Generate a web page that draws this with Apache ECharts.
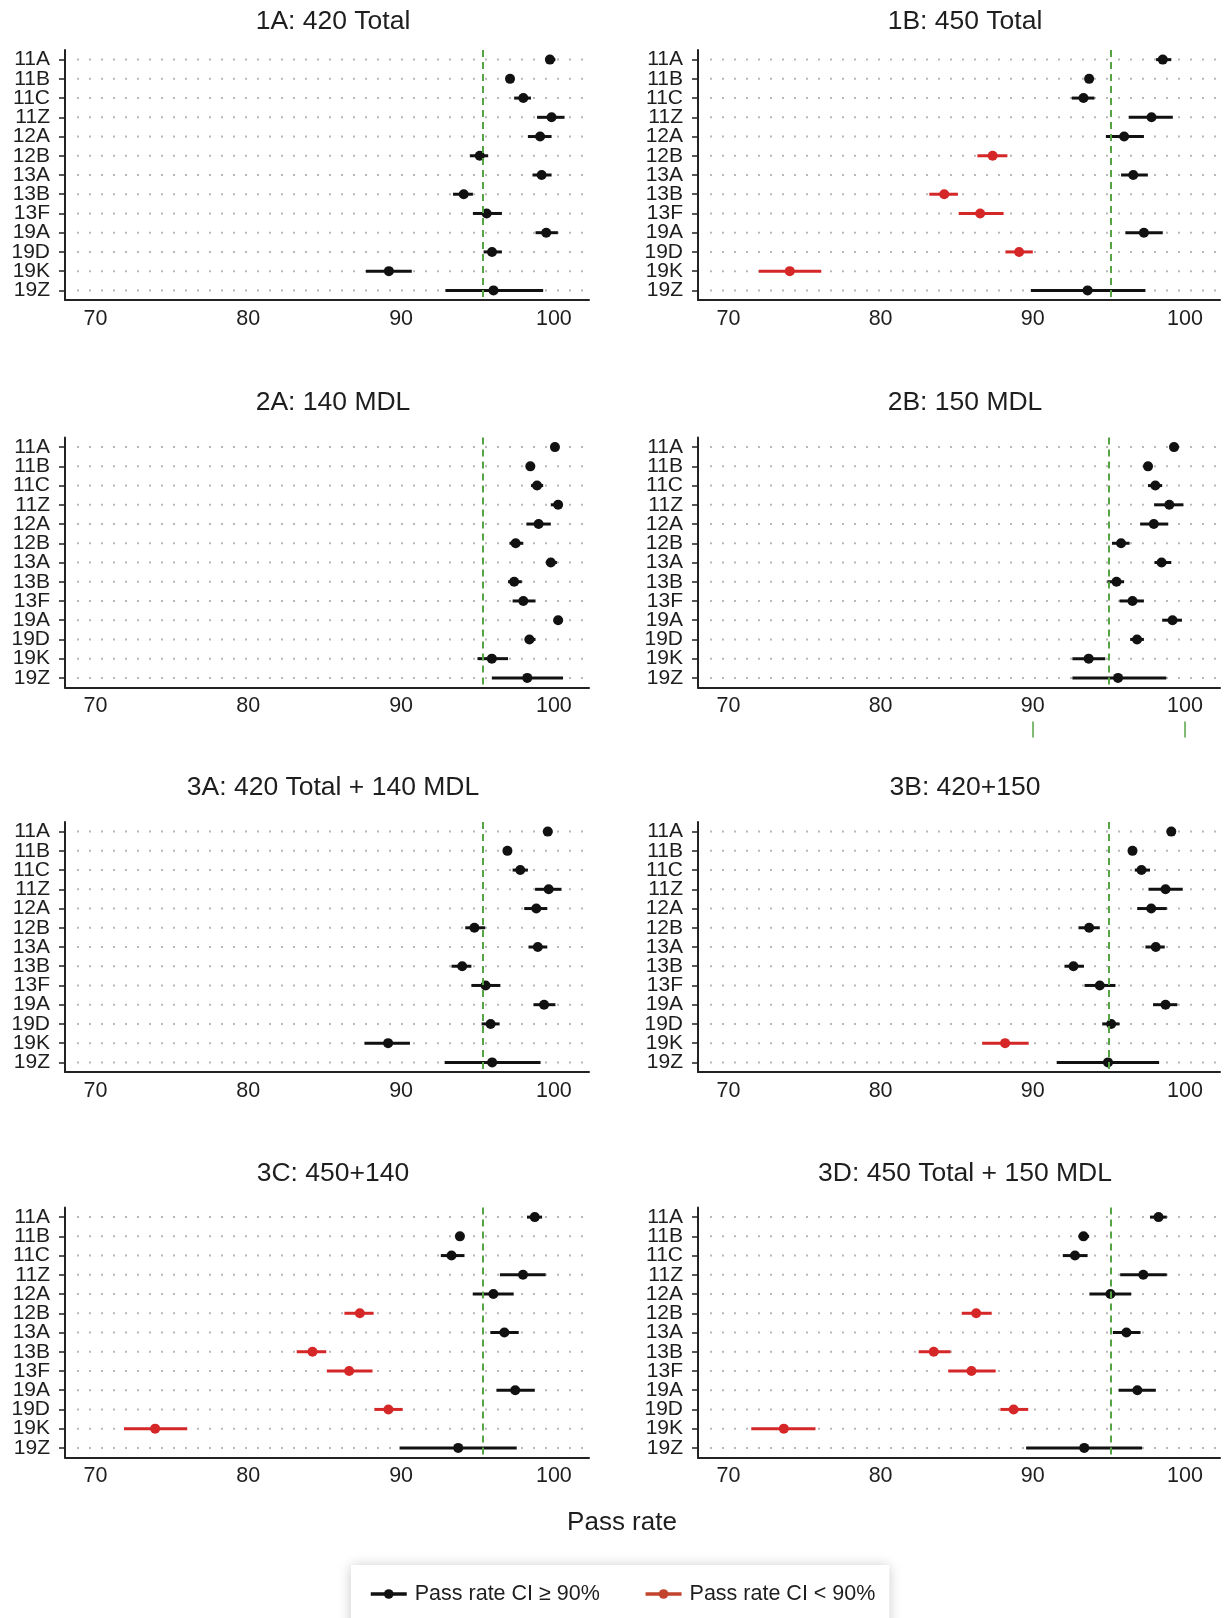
<!DOCTYPE html>
<html>
<head>
<meta charset="utf-8">
<script src="https://cdn.jsdelivr.net/npm/echarts@6/dist/echarts.min.js"></script>
<style>
html,body{margin:0;padding:0;background:#fff;}
#chart{width:1224px;height:1618px;}
</style>
</head>
<body>
<div id="chart"></div>
<script>
// ---------- data ----------
const categories = ['11A','11B','11C','11Z','12A','12B','13A','13B','13F','19A','19D','19K','19Z'];
const xTicks = [70, 80, 90, 100];
const panelTitles = ['1A: 420 Total','1B: 450 Total','2A: 140 MDL','2B: 150 MDL',
                     '3A: 420 Total + 140 MDL','3B: 420+150','3C: 450+140','3D: 450 Total + 150 MDL'];
const thresholds = [95.35, 95.15, 95.35, 95.0, 95.35, 95.0, 95.35, 95.1];
const legendNames = ['Pass rate CI \u2265 90%', 'Pass rate CI < 90%'];

const est1A = [99.74, 97.13, 98.0, 99.85, 99.1, 95.15, 99.2, 94.1, 95.6, 99.5, 95.95, 89.2, 96.05];
const lo1A  = [99.5, 97.0, 97.4, 98.9, 98.3, 94.5, 98.6, 93.4, 94.7, 98.8, 95.4, 87.7, 92.9];
const hi1A  = [100.1, 97.3, 98.5, 100.7, 99.85, 95.7, 99.85, 94.7, 96.6, 100.26, 96.6, 90.7, 99.3];
const red1A = [0,0,0,0,0,0,0,0,0,0,0,0,0];

const est1B = [98.54, 93.7, 93.33, 97.8, 96.0, 87.36, 96.6, 84.18, 86.54, 97.3, 89.1, 74.03, 93.6];
const lo1B  = [98.1, 93.5, 92.56, 96.3, 94.8, 86.36, 95.8, 83.2, 85.13, 96.08, 88.2, 72.0, 89.87];
const hi1B  = [99.1, 93.9, 94.05, 99.2, 97.3, 88.33, 97.56, 85.08, 88.08, 98.54, 90.0, 76.1, 97.4];
const red1B = [0,0,0,0,0,1,0,1,1,0,1,1,0];

const est2A = [100.07, 98.46, 98.9, 100.28, 99.0, 97.5, 99.8, 97.4, 98.0, 100.28, 98.4, 95.94, 98.26];
const lo2A  = [99.9, 98.3, 98.5, 99.8, 98.2, 97.1, 99.5, 97.0, 97.3, 100.0, 98.1, 95.0, 95.94];
const hi2A  = [100.2, 98.6, 99.3, 100.5, 99.8, 98.0, 100.2, 97.9, 98.8, 100.55, 98.8, 97.0, 100.6];
const red2A = [0,0,0,0,0,0,0,0,0,0,0,0,0];

const est2B = [99.28, 97.57, 98.05, 98.97, 97.95, 95.8, 98.46, 95.5, 96.55, 99.18, 96.85, 93.67, 95.6];
const lo2B  = [99.0, 97.4, 97.57, 97.97, 97.05, 95.2, 98.0, 94.9, 95.7, 98.5, 96.4, 92.6, 92.6];
const hi2B  = [99.55, 97.7, 98.5, 99.9, 98.9, 96.36, 99.1, 96.0, 97.3, 99.8, 97.3, 94.76, 98.77];
const red2B = [0,0,0,0,0,0,0,0,0,0,0,0,0];

const est3A = [99.6, 96.96, 97.8, 99.66, 98.85, 94.8, 98.95, 94.0, 95.53, 99.36, 95.86, 89.15, 95.96];
const lo3A  = [99.4, 96.8, 97.3, 98.77, 98.06, 94.2, 98.34, 93.3, 94.6, 98.67, 95.27, 87.6, 92.85];
const hi3A  = [99.9, 97.1, 98.3, 100.5, 99.57, 95.5, 99.57, 94.6, 96.5, 100.1, 96.45, 90.58, 99.13];
const red3A = [0,0,0,0,0,0,0,0,0,0,0,0,0];

const est3B = [99.1, 96.55, 97.14, 98.72, 97.78, 93.7, 98.08, 92.67, 94.4, 98.72, 95.15, 88.18, 94.94];
const lo3B  = [98.85, 96.4, 96.7, 97.6, 96.86, 93.0, 97.4, 92.08, 93.4, 97.9, 94.56, 86.67, 91.57];
const hi3B  = [99.4, 96.7, 97.7, 99.85, 98.8, 94.4, 98.67, 93.36, 95.43, 99.5, 95.7, 89.73, 98.3];
const red3B = [0,0,0,0,0,0,0,0,0,0,0,1,0];

const est3C = [98.75, 93.85, 93.3, 97.98, 96.04, 87.3, 96.76, 84.2, 86.6, 97.47, 89.17, 73.9, 93.74];
const lo3C  = [98.24, 93.7, 92.6, 96.47, 94.69, 86.29, 95.84, 83.17, 85.14, 96.24, 88.25, 71.86, 89.9];
const hi3C  = [99.23, 94.0, 94.15, 99.46, 97.37, 88.2, 97.7, 85.1, 88.13, 98.75, 90.1, 76.0, 97.57];
const red3C = [0,0,0,0,0,1,0,1,1,0,1,1,0];

const est3D = [98.26, 93.33, 92.77, 97.26, 95.1, 86.28, 96.15, 83.49, 85.97, 96.87, 88.74, 73.64, 93.38];
const lo3D  = [97.7, 93.0, 91.97, 95.74, 93.72, 85.33, 95.26, 82.5, 84.44, 95.64, 87.87, 71.5, 89.56];
const hi3D  = [98.8, 93.7, 93.6, 98.8, 96.46, 87.3, 97.08, 84.6, 87.56, 98.08, 89.7, 75.72, 97.18];
const red3D = [0,0,0,0,0,1,0,1,1,0,1,1,0];

const panels = [
  [est1A, lo1A, hi1A, red1A], [est1B, lo1B, hi1B, red1B],
  [est2A, lo2A, hi2A, red2A], [est2B, lo2B, hi2B, red2B],
  [est3A, lo3A, hi3A, red3A], [est3B, lo3B, hi3B, red3B],
  [est3C, lo3C, hi3C, red3C], [est3D, lo3D, hi3D, red3D]
];

// ---------- style / layout ----------
const FONT = '"Liberation Sans", Arial, Helvetica, sans-serif';
const BLACK = '#111111';
const RED = '#d62728';
const LEGEND_RED = '#c2442c';
const GREEN = '#56a544';
const TXT = '#1e1e1e';
const gridLeft = [65, 698];
const gridWidth = [524, 522];
const gridTop = [50, 437.5, 822, 1207.5];
const titleTop = [7, 388, 773, 1159];
const gridHeight = 250;
const titleX = [333, 965];

const grids = [], xAxes = [], yAxes = [], series = [], titles = [];

panels.forEach((p, i) => {
  const col = i % 2, row = Math.floor(i / 2);
  grids.push({left: gridLeft[col], top: gridTop[row], width: gridWidth[col], height: gridHeight, containLabel: false});
  xAxes.push({
    gridIndex: i, type: 'value', min: 68, max: 102.3,
    axisLine: {show: true, lineStyle: {color: '#222', width: 2}},
    axisTick: {show: false},
    splitLine: {show: false},
    axisLabel: {customValues: xTicks, fontSize: 21.5, color: TXT, fontFamily: FONT, margin: 8}
  });
  yAxes.push({
    gridIndex: i, type: 'category', data: categories, inverse: true,
    axisLine: {show: true, lineStyle: {color: '#222', width: 2}},
    axisTick: {show: true, alignWithLabel: true, length: 6, interval: 0, lineStyle: {color: '#222', width: 1.5}},
    splitLine: {show: false},
    axisLabel: {interval: 0, hideOverlap: false, fontSize: 21, lineHeight: 19, color: TXT, fontFamily: FONT, margin: 15}
  });
  titles.push({
    text: panelTitles[i], left: titleX[col], top: titleTop[row], textAlign: 'center', padding: 0,
    textStyle: {fontSize: 26.5, fontWeight: 'normal', color: TXT, fontFamily: FONT, lineHeight: 30}
  });

  const [est, lo, hi, red] = p;
  // dotted guide lines at each category
  series.push({
    type: 'custom', xAxisIndex: i, yAxisIndex: i, silent: true, z: 1,
    data: categories.map((c, k) => [k]),
    encode: {y: 0},
    renderItem: (params, api) => {
      const cs = params.coordSys;
      const y = api.coord([70, api.value(0)])[1];
      return {type: 'line', shape: {x1: cs.x + 12, y1: y, x2: cs.x + cs.width - 2, y2: y},
              style: {stroke: '#b8b8b8', lineWidth: 2, lineDash: [2, 10]}};
    }
  });
  // CI bars
  series.push({
    type: 'custom', xAxisIndex: i, yAxisIndex: i, silent: true, z: 3,
    data: est.map((v, k) => [lo[k], hi[k], k, red[k]]),
    encode: {x: [0, 1], y: 2},
    renderItem: (params, api) => {
      const a = api.coord([api.value(0), api.value(2)]);
      const b = api.coord([api.value(1), api.value(2)]);
      return {type: 'line', shape: {x1: a[0], y1: a[1], x2: b[0], y2: b[1]},
              style: {stroke: api.value(3) ? RED : BLACK, lineWidth: 3}};
    }
  });
  // point estimates
  series.push({
    type: 'scatter', xAxisIndex: i, yAxisIndex: i, silent: true, z: 4,
    symbol: 'circle', symbolSize: 10,
    data: est.map((v, k) => [v, k, red[k]]),
    itemStyle: {color: (prm) => prm.data[2] ? RED : BLACK, opacity: 1},
    markLine: {
      silent: true, symbol: 'none', label: {show: false}, animation: false,
      lineStyle: {color: GREEN, type: [7, 5], width: 2},
      data: [{xAxis: thresholds[i]}]
    }
  });
});

// stray green ticks under panel 2B
xAxes.push({
  gridIndex: 3, type: 'value', min: 68, max: 102.3, position: 'bottom', offset: 34,
  axisLine: {show: false}, splitLine: {show: false}, axisLabel: {show: false},
  axisTick: {show: true, customValues: [90, 100], length: 16, lineStyle: {color: GREEN, width: 1.5}}
});

// legend dummies
series.push({type: 'line', name: legendNames[0], xAxisIndex: 0, yAxisIndex: 0, data: [],
  symbol: 'circle', symbolSize: 10, lineStyle: {color: BLACK, width: 3.5}, itemStyle: {color: BLACK}});
series.push({type: 'line', name: legendNames[1], xAxisIndex: 0, yAxisIndex: 0, data: [],
  symbol: 'circle', symbolSize: 10, lineStyle: {color: LEGEND_RED, width: 3.5}, itemStyle: {color: LEGEND_RED}});

titles.push({
  text: 'Pass rate', left: 622, top: 1508, textAlign: 'center', padding: 0,
  textStyle: {fontSize: 26, fontWeight: 'normal', color: TXT, fontFamily: FONT, lineHeight: 30}
});

const chart = echarts.init(document.getElementById('chart'), null, {renderer: 'canvas'});
chart.setOption({
  animation: false,
  backgroundColor: '#ffffff',
  title: titles,
  grid: grids,
  xAxis: xAxes,
  yAxis: yAxes,
  legend: {
    data: legendNames, left: 351, top: 1565, orient: 'horizontal', selectedMode: false,
    itemWidth: 36, itemHeight: 12, itemGap: 44,
    lineStyle: {width: 3.5},
    padding: [18, 14, 40, 18],
    backgroundColor: '#ffffff', shadowBlur: 12, shadowColor: 'rgba(0,0,0,0.22)', shadowOffsetY: 1,
    textStyle: {fontSize: 21.5, color: TXT, fontFamily: FONT, padding: [0, 0, 0, 3]}
  },
  series: series
});
</script>
</body>
</html>
